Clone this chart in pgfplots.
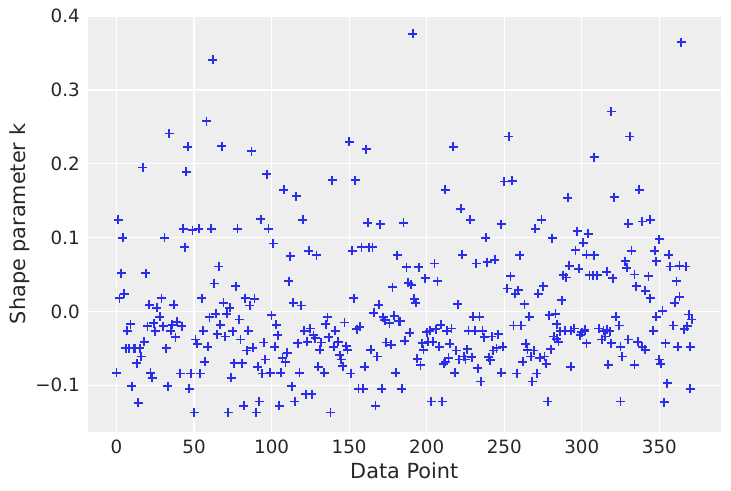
\documentclass[border=0pt]{standalone}
\usepackage{fontspec}
\setmainfont{DejaVu Sans}
\usepackage{pgfplots}
\pgfplotsset{compat=1.18}
\usepackage{pgfplotstable}
\definecolor{bg}{HTML}{EEEEEE}
\definecolor{txt}{HTML}{262626}
\definecolor{mk}{HTML}{2A2EEC}

\pgfplotstableread{
x y
0 -0.083
1 0.124
2 0.018
3 0.052
4 0.100
5 0.024
6 -0.050
7 -0.026
8 -0.050
9 -0.017
10 -0.101
11 -0.050
12 -0.050
13 -0.070
14 -0.124
15 -0.050
16 -0.061
17 0.195
18 -0.041
19 0.052
20 -0.020
21 0.009
22 -0.083
23 -0.090
24 -0.016
25 -0.027
26 0.005
28 -0.007
29 0.018
30 -0.020
31 0.100
32 -0.050
33 -0.101
34 0.241
35 -0.026
36 -0.018
37 0.009
38 -0.035
39 -0.014
41 -0.084
42 -0.020
43 0.112
44 0.087
45 0.189
46 0.223
47 -0.105
48 -0.084
49 0.110
50 -0.137
51 -0.038
52 -0.044
53 0.112
54 -0.084
55 0.018
56 -0.026
57 -0.068
58 0.258
59 -0.048
60 -0.008
61 0.112
62 0.341
63 0.038
64 -0.003
65 -0.031
66 0.061
67 -0.018
68 0.224
69 0.012
70 -0.034
71 -0.003
72 -0.137
73 0.005
74 -0.090
75 -0.027
76 -0.070
77 0.034
78 0.112
79 -0.011
80 -0.038
81 -0.070
82 -0.128
83 0.018
84 -0.053
85 -0.026
86 0.008
87 0.217
88 -0.049
89 0.017
90 -0.137
91 -0.075
92 -0.122
93 0.125
94 -0.084
95 -0.042
96 -0.065
97 0.186
98 0.112
99 -0.083
100 -0.005
101 0.092
102 -0.048
103 -0.018
104 -0.032
105 -0.128
106 -0.083
107 -0.063
108 0.165
109 -0.069
110 -0.056
111 0.041
112 0.075
113 -0.101
114 0.012
115 -0.122
116 0.156
117 -0.043
118 -0.083
119 0.008
120 0.124
121 -0.026
122 -0.112
123 -0.041
124 0.082
125 -0.023
126 -0.112
127 -0.032
128 -0.036
129 0.076
130 -0.075
131 -0.052
132 -0.042
134 -0.083
135 -0.017
136 -0.008
137 -0.035
138 -0.137
139 0.178
140 -0.048
141 -0.026
143 -0.041
144 -0.059
145 -0.065
146 -0.074
147 -0.015
148 -0.047
149 -0.052
150 0.230
151 -0.084
152 0.082
153 0.018
154 0.178
155 -0.024
156 -0.105
157 -0.021
158 0.087
159 -0.105
160 -0.075
161 0.220
162 0.120
163 0.087
164 -0.052
165 0.087
166 -0.002
167 -0.128
168 -0.061
169 0.009
170 0.118
171 -0.105
172 -0.008
173 -0.012
174 -0.042
176 -0.016
177 -0.045
178 0.033
179 -0.006
180 -0.083
181 0.076
182 -0.013
183 -0.013
184 -0.105
185 0.120
186 -0.040
187 0.060
188 0.039
189 -0.029
190 0.036
191 0.376
192 0.017
193 0.012
194 -0.064
195 0.060
196 -0.073
197 -0.043
198 -0.052
199 0.045
200 -0.028
201 -0.041
202 -0.026
203 -0.122
204 -0.041
205 0.065
206 -0.024
207 0.041
208 -0.048
209 -0.018
210 -0.122
211 -0.071
212 -0.068
212 0.165
213 -0.026
214 -0.063
215 -0.044
216 -0.023
217 0.223
218 -0.083
219 -0.053
220 0.010
221 -0.065
222 0.139
223 0.077
224 -0.061
225 -0.065
226 -0.051
227 -0.026
228 0.124
229 -0.062
230 -0.007
231 -0.026
232 0.065
233 -0.077
234 -0.007
235 -0.095
236 -0.026
237 -0.035
238 0.100
239 0.067
240 -0.062
241 -0.066
242 -0.034
243 -0.053
244 0.070
245 -0.050
246 -0.031
248 0.118
248 -0.083
249 -0.048
250 0.176
252 0.031
253 0.237
254 0.048
255 0.177
256 -0.019
257 0.024
258 -0.084
259 0.029
260 0.076
261 -0.019
262 -0.068
263 0.010
264 -0.044
265 -0.052
266 -0.007
267 -0.061
268 -0.095
269 -0.053
270 0.112
271 -0.084
272 0.024
273 -0.063
274 0.124
275 0.034
276 -0.061
277 -0.071
278 -0.122
279 -0.005
280 -0.051
281 0.099
282 -0.034
283 -0.003
284 -0.037
284 -0.017
285 -0.041
286 -0.027
287 0.015
288 0.049
289 -0.026
290 0.046
291 0.154
292 0.062
293 -0.075
293 -0.026
295 -0.023
296 0.083
297 0.109
298 0.058
299 -0.032
300 -0.028
301 0.093
302 -0.026
302 -0.025
303 -0.043
303 0.077
304 0.105
305 0.049
307 0.049
308 0.076
308 0.209
310 0.049
311 -0.023
313 -0.038
314 -0.026
315 -0.034
316 -0.025
316 0.054
317 -0.072
318 -0.027
319 0.271
319 -0.043
320 0.045
321 0.155
322 -0.007
324 -0.019
325 -0.048
325 -0.122
326 -0.061
328 0.068
329 0.059
330 0.119
330 -0.038
331 0.237
332 0.082
334 0.050
334 -0.072
335 0.034
336 -0.041
337 0.165
339 0.122
339 -0.048
341 -0.052
341 0.028
343 0.048
344 0.124
344 0.018
346 -0.026
347 0.082
348 0.068
348 -0.007
350 0.098
350 -0.065
351 -0.071
352 0.001
353 -0.123
354 -0.043
355 -0.097
356 0.077
357 0.061
359 -0.019
360 0.012
361 0.041
362 -0.048
363 0.020
363 0.062
364 0.365
366 -0.024
367 0.061
368 -0.020
369 -0.004
370 -0.048
370 -0.105
371 -0.011
}\datatable

\begin{document}
\begin{tikzpicture}
\begin{axis}[name=ax, scale only axis, width=633bp, height=416.6bp,
  xmin=-18.55, xmax=389.55, ymin=-0.1637, ymax=0.4007,
  axis background/.style={fill=bg},
  axis line style={draw=none},
  major tick style={draw=none},
  grid=major, major grid style={white, line width=1.1bp},
  xtick={0,50,...,350}, xticklabels={0,50,100,150,200,250,300,350},
  ytick={-0.1,0,0.1,0.2,0.3,0.4}, yticklabels={−0.1,0.0,0.1,0.2,0.3,0.4},
  ticklabel style={font=\fontsize{18.3bp}{22bp}\selectfont, text=txt},
  xticklabel style={anchor=north, inner sep=0pt, yshift=-7bp},
  yticklabel style={anchor=east, inner sep=0pt, xshift=-7.7bp},
  xlabel={Data Point}, ylabel={Shape parameter k},
  label style={font=\fontsize{20.8bp}{24bp}\selectfont, text=txt},
  xlabel style={at={(axis description cs:0.5,-0.1104)}, anchor=base},
  ylabel style={at={(axis description cs:-0.09795,0.5)}, anchor=base, rotate=0},
]
\addplot[only marks, mark=+, mark size=4.5bp, color=mk, line width=1.8bp] table[x=x, y=y] {\datatable};
\end{axis}
\path ([shift={(-87.7bp,-58.7bp)}]ax.south west) rectangle ([shift={(10.3bp,15.7bp)}]ax.north east);
\end{tikzpicture}
\end{document}
